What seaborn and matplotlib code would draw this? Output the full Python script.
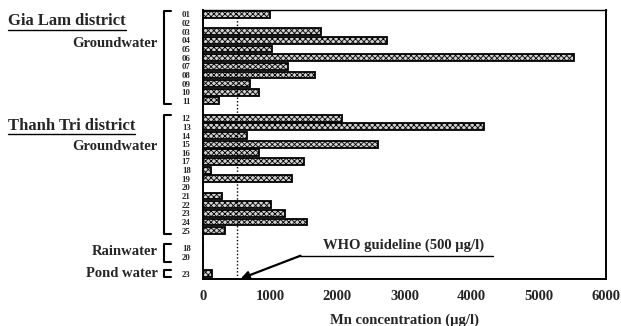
import matplotlib
matplotlib.use("Agg")
import matplotlib.pyplot as plt
from matplotlib.lines import Line2D
import matplotlib.transforms as mtransforms
import seaborn as sns
import pandas as pd

sns.set_theme(style="white")
plt.rcParams["font.family"] = ["Liberation Serif", "DejaVu Serif"]
plt.rcParams["font.weight"] = "bold"
plt.rcParams["hatch.linewidth"] = 0.6

# well / sample ids and Mn concentration (ug/l)
gialam_ids = ["01", "02", "03", "04", "05", "06", "07", "08", "09", "10", "11"]
gialam_mn = [1000, 0, 1750, 2740, 1030, 5520, 1270, 1660, 700, 840, 240]
thanhtri_ids = ["12", "13", "14", "15", "16", "17", "18", "19", "20", "21", "22", "23", "24", "25"]
thanhtri_mn = [2070, 4180, 660, 2610, 840, 1500, 115, 1330, 0, 280, 1010, 1220, 1550, 330]
rain_ids = ["18", "20"]
rain_mn = [0, 0]
pond_ids = ["23"]
pond_mn = [130]
who_limit = 500

rows = []
order = []
labels = []
for grp, ids, vals in [("GL", gialam_ids, gialam_mn), ("TT", thanhtri_ids, thanhtri_mn),
                       ("RW", rain_ids, rain_mn), ("PW", pond_ids, pond_mn)]:
    if order:
        order.append("gap" + grp)
        labels.append("")
    for i, v in zip(ids, vals):
        key = grp + i
        rows.append({"key": key, "mn": v})
        order.append(key)
        labels.append(i)
df = pd.DataFrame(rows)

fig = plt.figure(figsize=(6.21, 3.26), dpi=100)
ax = fig.add_axes([0.327, 0.144, 0.649, 0.825])
sns.barplot(data=df, x="mn", y="key", order=order, orient="h", color="white",
            edgecolor="black", linewidth=1.3, width=0.8, saturation=1, ax=ax)
for p in ax.patches:
    p.set_hatch("xxxxxx")
    p.set_facecolor("#d0d0d0")

ax.set_xlim(0, 6000)
ax.set_ylim(30.6, -0.5)
ax.set_xticks(range(0, 6001, 1000))
ax.set_xticklabels([str(t) for t in range(0, 6001, 1000)], fontsize=10.5, fontweight="bold")
ax.set_yticks(range(len(order)))
ax.set_yticklabels(labels, fontsize=6.3, fontweight="bold")
ax.tick_params(axis="both", direction="in", length=3, width=1, color="black")
ax.tick_params(axis="x", pad=8)
ax.tick_params(axis="y", pad=9)
ax.set_ylabel("")
ax.set_xlabel("Mn concentration (\u00b5g/l)", fontsize=10.5, fontweight="bold")
ax.xaxis.set_label_coords(0.5, -0.128)
for s in ax.spines.values():
    s.set_color("black")
    s.set_linewidth(1.4)
ax.spines["top"].set_linewidth(1.0)

ax.axvline(who_limit, color="black", lw=1.0, ls=(0, (1, 1.5)))

# guideline callout
ax.plot([1450, 4310], [27.9, 27.9], color="black", lw=1.0, clip_on=False)
ax.annotate("", xy=(560, 30.55), xytext=(1450, 27.9),
            arrowprops=dict(arrowstyle="-|>", color="black", lw=1.6, mutation_scale=12,
                            shrinkA=0, shrinkB=0))
ax.text(2980, 27.5, "WHO guideline (500 \u00b5g/l)", ha="center", va="bottom",
        fontsize=10.5, fontweight="bold")

# group brackets and labels on the left
tr = mtransforms.blended_transform_factory(ax.transAxes, ax.transData)
def bracket(y0, y1):
    xs = [-0.08, -0.098, -0.098, -0.08]
    ax.add_line(Line2D(xs, [y0, y0, y1, y1], transform=tr, color="black", lw=1.5, clip_on=False))

bracket(-0.35, 10.4)
bracket(11.6, 25.4)
bracket(26.6, 28.6)
bracket(29.6, 30.4)

ax.text(-0.112, 3.4, "Groundwater", transform=tr, ha="right", va="center", fontsize=10.5)
ax.text(-0.112, 15.3, "Groundwater", transform=tr, ha="right", va="center", fontsize=10.5)
ax.text(-0.112, 27.4, "Rainwater", transform=tr, ha="right", va="center", fontsize=10.5)
ax.text(-0.112, 29.9, "Pond water", transform=tr, ha="right", va="center", fontsize=10.5)

heads = [fig.text(0.013, 0.922, "Gia Lam district", fontsize=12, ha="left", va="baseline"),
         fig.text(0.013, 0.602, "Thanh Tri district", fontsize=12, ha="left", va="baseline")]
fig.canvas.draw()
r = fig.canvas.get_renderer()
for h in heads:
    bb = h.get_window_extent(r).transformed(fig.transFigure.inverted())
    y = h.get_position()[1] - 0.014
    fig.add_artist(Line2D([bb.x0, bb.x1], [y, y], transform=fig.transFigure, color="black", lw=1.0))

fig.savefig("out.png", dpi=100)
